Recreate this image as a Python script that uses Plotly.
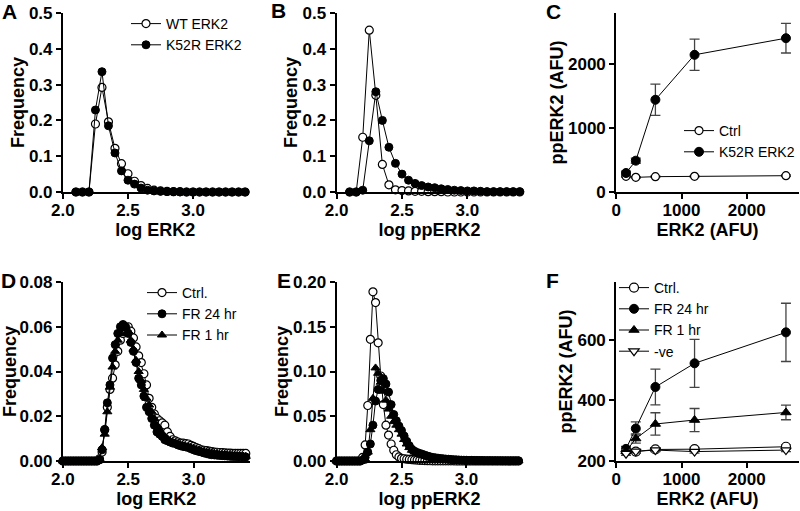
import plotly.graph_objects as go

# ---------------- data ----------------
AB_bins = [2.10, 2.15, 2.20, 2.25, 2.30, 2.35, 2.40, 2.45, 2.50, 2.55, 2.60, 2.65, 2.70,
           2.75, 2.80, 2.85, 2.90, 2.95, 3.00, 3.05, 3.10, 3.15, 3.20, 3.25, 3.30, 3.35, 3.40]

A_wt = [0, 0, 0, 0.190, 0.292, 0.196, 0.122, 0.079, 0.051, 0.030, 0.018, 0.010, 0.005,
        0.003, 0.002, 0.001, 0.001, 0, 0, 0, 0, 0, 0, 0, 0, 0, 0]
A_k52r = [0, 0, 0, 0.229, 0.336, 0.185, 0.109, 0.059, 0.033, 0.022, 0.011, 0.005, 0.003,
          0.002, 0.001, 0.001, 0, 0, 0, 0, 0, 0, 0, 0, 0, 0, 0]

B_wt = [0, 0, 0.153, 0.452, 0.270, 0.077, 0.020, 0.006, 0.004, 0.003, 0.002, 0.002, 0.001,
        0.001, 0.001, 0, 0, 0, 0, 0, 0, 0, 0, 0, 0, 0, 0]
B_k52r = [0, 0, 0.005, 0.143, 0.280, 0.200, 0.125, 0.080, 0.050, 0.033, 0.024, 0.018, 0.014,
          0.012, 0.009, 0.007, 0.005, 0.004, 0.003, 0.003, 0.002, 0.001, 0.001, 0.001, 0.001,
          0.001, 0.001]

C_erk = [150, 300, 600, 1200, 2600]
C_ctrl = [245, 229, 240, 245, 255]
C_ctrl_err = [10, 10, 10, 10, 12]
C_k52r = [297, 490, 1443, 2146, 2406]
C_k52r_err = [30, 40, 245, 245, 232]

DE_bins = [2.00, 2.02, 2.04, 2.06, 2.08, 2.10, 2.12, 2.14, 2.16, 2.18,
           2.20, 2.22, 2.24, 2.26, 2.28, 2.30, 2.32, 2.34, 2.36, 2.38,
           2.40, 2.42, 2.44, 2.46, 2.48, 2.50, 2.52, 2.54, 2.56, 2.58,
           2.60, 2.62, 2.64, 2.66, 2.68, 2.70, 2.72, 2.74, 2.76, 2.78,
           2.80, 2.82, 2.84, 2.86, 2.88, 2.90, 2.92, 2.94, 2.96, 2.98,
           3.00, 3.02, 3.04, 3.06, 3.08, 3.10, 3.12, 3.14, 3.16, 3.18,
           3.20, 3.22, 3.24, 3.26, 3.28, 3.30, 3.32, 3.34, 3.36, 3.38, 3.40]

D_ctrl = [0, 0, 0, 0, 0, 0, 0, 0, 0, 0, 0, 0, 0, 0,
          0.001, 0.004, 0.014, 0.024, 0.032, 0.037, 0.043, 0.049, 0.054, 0.057,
          0.059, 0.060, 0.058, 0.055, 0.051, 0.047, 0.044, 0.039, 0.034, 0.028,
          0.024, 0.021, 0.019, 0.018, 0.017, 0.016, 0.013, 0.011, 0.0095, 0.009,
          0.0085, 0.008, 0.008, 0.0078, 0.0076, 0.007, 0.0065, 0.006, 0.0055, 0.005,
          0.0048, 0.0046, 0.0044, 0.0042, 0.004, 0.0039, 0.0038, 0.0037, 0.0036, 0.0035,
          0.0035, 0.0034, 0.0034, 0.0034, 0.0034, 0.0034, 0.0034]
D_fr24 = [0, 0, 0, 0, 0, 0, 0, 0, 0, 0, 0, 0, 0, 0,
          0.0005, 0.005, 0.014, 0.026, 0.034, 0.046, 0.052, 0.057, 0.060, 0.061,
          0.060, 0.057, 0.053, 0.049, 0.044, 0.037, 0.034, 0.029, 0.024, 0.022,
          0.019, 0.016, 0.013, 0.012, 0.011, 0.0095, 0.009, 0.0085, 0.008, 0.0078,
          0.0072, 0.0068, 0.0065, 0.0063, 0.006, 0.0055, 0.005, 0.0046, 0.0043, 0.004,
          0.0036, 0.0033, 0.003, 0.0028, 0.0027, 0.0026, 0.0025, 0.0024, 0.0023, 0.0022,
          0.0021, 0.002, 0.002, 0.0019, 0.0019, 0.0019, 0.0018]
D_fr1 = [0, 0, 0, 0, 0, 0, 0, 0, 0, 0, 0, 0, 0, 0,
         0.001, 0.006, 0.012, 0.022, 0.033, 0.042, 0.049, 0.054, 0.057, 0.059,
         0.060, 0.058, 0.054, 0.050, 0.045, 0.040, 0.036, 0.032, 0.028, 0.025,
         0.022, 0.019, 0.016, 0.014, 0.012, 0.011, 0.010, 0.009, 0.0085, 0.008,
         0.0075, 0.007, 0.0068, 0.0065, 0.0062, 0.006, 0.0056, 0.0052, 0.0048, 0.0045,
         0.0042, 0.004, 0.0038, 0.0036, 0.0034, 0.0032, 0.003, 0.0029, 0.0028, 0.0027,
         0.0026, 0.0025, 0.0024, 0.0023, 0.0022, 0.0022, 0.0021]

E_ctrl = [0, 0, 0, 0, 0, 0, 0, 0, 0, 0,
          0.004, 0.018, 0.062, 0.136, 0.189, 0.177, 0.132, 0.095, 0.063, 0.040,
          0.029, 0.019, 0.012, 0.007, 0.0045, 0.003, 0.0025, 0.002, 0.0018, 0.0015,
          0.0012, 0.001, 0.0008, 0.0006, 0.0005, 0.0004, 0.0003, 0.0002, 0.0002, 0.0002,
          0.0002, 0.0002, 0.0002, 0.0002, 0.0002, 0.0002, 0, 0, 0, 0,
          0, 0, 0, 0, 0, 0, 0, 0, 0, 0,
          0, 0, 0, 0, 0, 0, 0, 0, 0, 0, 0]
E_fr24 = [0, 0, 0, 0, 0, 0, 0, 0, 0, 0,
          0.001, 0.004, 0.010, 0.019, 0.040, 0.067, 0.080, 0.090, 0.092, 0.086,
          0.077, 0.063, 0.052, 0.045, 0.039, 0.034, 0.028, 0.022, 0.017, 0.013,
          0.011, 0.0095, 0.0085, 0.0075, 0.0065, 0.0055, 0.0047, 0.004, 0.0036, 0.0032,
          0.0028, 0.0025, 0.0022, 0.002, 0.0017, 0.0015, 0.0013, 0.0012, 0.001, 0.0009,
          0.0008, 0.0007, 0.0007, 0.0006, 0.0006, 0.0005, 0.0005, 0.0004, 0.0004, 0.0004,
          0.0003, 0.0003, 0.0003, 0.0003, 0.0002, 0.0002, 0.0002, 0.0002, 0.0002, 0.0002, 0.0002]
E_fr1 = [0, 0, 0, 0, 0, 0, 0, 0, 0, 0,
         0, 0.002, 0.010, 0.035, 0.070, 0.104, 0.098, 0.088, 0.078, 0.068,
         0.058, 0.050, 0.044, 0.040, 0.035, 0.030, 0.024, 0.019, 0.015, 0.012,
         0.010, 0.0085, 0.0075, 0.0065, 0.0055, 0.0047, 0.004, 0.0035, 0.003, 0.0027,
         0.0024, 0.0021, 0.0019, 0.0017, 0.0015, 0.0013, 0.0012, 0.001, 0.0009, 0.0008,
         0.0007, 0.0006, 0.0006, 0.0005, 0.0005, 0.0005, 0.0004, 0.0004, 0.0003, 0.0003,
         0.0003, 0.0003, 0.0002, 0.0002, 0.0002, 0.0002, 0.0002, 0.0002, 0.0001, 0.0001, 0.0001]

F_erk = [150, 300, 600, 1200, 2600]
F_ctrl = [232, 231, 238, 239, 247]
F_ctrl_err = [6, 6, 6, 6, 6]
F_fr24 = [240, 307, 444, 522, 624]
F_fr24_err = [8, 22, 59, 79, 96]
F_fr1 = [232, 274, 322, 335, 360]
F_fr1_err = [6, 15, 37, 38, 24]
F_neg = [224, 232, 236, 231, 236]
F_neg_err = [5, 5, 5, 5, 5]

for arr in (D_ctrl, D_fr24, D_fr1, E_ctrl, E_fr24, E_fr1):
    assert len(arr) == len(DE_bins), len(arr)
for arr in (A_wt, A_k52r, B_wt, B_k52r):
    assert len(arr) == len(AB_bins), len(arr)

# ---------------- styling helpers ----------------
W, H = 800, 511
FONT = "Liberation Sans"
TICKFONT = dict(family=FONT, size=17, color="black", weight="bold")
TITLEFONT = dict(family=FONT, size=18, color="black", weight="bold")


def px_x(a, b):
    return [a / W, b / W]


def px_y(top, bottom):
    return [1 - bottom / H, 1 - top / H]


def axis(domain, rng, title, tickvals=None, dtick=None, fmt=None, anchor=None,
         standoff=0, labelshift=0):
    d = dict(domain=domain, range=rng, showline=True, linewidth=2, linecolor="black",
             ticks="outside", ticklen=5, tickwidth=2, tickcolor="black",
             showgrid=False, zeroline=False, tickfont=TICKFONT,
             ticklabelstandoff=labelshift,
             title=dict(text=title, font=TITLEFONT, standoff=standoff),
             anchor=anchor, automargin=False)
    if tickvals is not None:
        d["tickmode"] = "array"
        d["tickvals"] = tickvals
    if dtick is not None:
        d["tick0"] = rng[0]
        d["dtick"] = dtick
    if fmt is not None:
        d["tickformat"] = fmt
    return d


fig = go.Figure()

OPEN = dict(color="white", size=8, line=dict(color="black", width=1.2))
FILLED = dict(color="black", size=8, line=dict(color="black", width=1))
LINE = dict(color="black", width=1)
EB = dict(type="data", color="#444", thickness=1.3, width=5, visible=True)


def add(x, y, name, marker, xa, ya, legend, symbol="circle", err=None, showlegend=True):
    m = dict(marker)
    m["symbol"] = symbol
    tr = go.Scatter(x=x, y=y, name=name, mode="lines+markers", marker=m, line=LINE,
                    xaxis=xa, yaxis=ya, legend=legend, showlegend=showlegend,
                    cliponaxis=False)
    if err is not None:
        e = dict(EB)
        e["array"] = err
        tr.error_y = e
    fig.add_trace(tr)


# A
add(AB_bins, A_wt, "WT ERK2", OPEN, "x", "y", "legend")
add(AB_bins, A_k52r, "K52R ERK2", FILLED, "x", "y", "legend")
# B
add(AB_bins, B_wt, "WT ERK2", OPEN, "x2", "y2", "legend", showlegend=False)
add(AB_bins, B_k52r, "K52R ERK2", FILLED, "x2", "y2", "legend", showlegend=False)
# C
add(C_erk, C_ctrl, "Ctrl", OPEN, "x3", "y3", "legend2", err=C_ctrl_err)
add(C_erk, C_k52r, "K52R ERK2", dict(FILLED, size=9), "x3", "y3", "legend2", err=C_k52r_err)
# D
add(DE_bins, D_ctrl, "Ctrl.", OPEN, "x4", "y4", "legend3")
add(DE_bins, D_fr24, "FR 24 hr", FILLED, "x4", "y4", "legend3")
add(DE_bins, D_fr1, "FR 1 hr", FILLED, "x4", "y4", "legend3", symbol="triangle-up")
# E
add(DE_bins, E_ctrl, "Ctrl.", OPEN, "x5", "y5", "legend3", showlegend=False)
add(DE_bins, E_fr24, "FR 24 hr", FILLED, "x5", "y5", "legend3", showlegend=False)
add(DE_bins, E_fr1, "FR 1 hr", FILLED, "x5", "y5", "legend3", symbol="triangle-up", showlegend=False)
# F
add(F_erk, F_ctrl, "Ctrl.", dict(OPEN, size=9), "x6", "y6", "legend4", err=F_ctrl_err)
add(F_erk, F_fr24, "FR 24 hr", dict(FILLED, size=9), "x6", "y6", "legend4", err=F_fr24_err)
add(F_erk, F_fr1, "FR 1 hr", dict(FILLED, size=9), "x6", "y6", "legend4", symbol="triangle-up", err=F_fr1_err)
add(F_erk, F_neg, "-ve", dict(OPEN, size=9), "x6", "y6", "legend4", symbol="triangle-down", err=F_neg_err)

top_row = px_y(13, 192)
bot_row = px_y(282, 461)
XS = -3  # pull x tick labels up a little

layout = dict(
    width=W, height=H, margin=dict(l=0, r=0, t=0, b=0),
    paper_bgcolor="white", plot_bgcolor="white",
    font=dict(family=FONT, color="black"),
    xaxis=axis(px_x(63, 248), [2.0, 3.42], "log ERK2", tickvals=[2.0, 2.5, 3.0], fmt=".1f", anchor="y", labelshift=XS),
    yaxis=axis(top_row, [0, 0.5], "Frequency", dtick=0.1, fmt=".1f", anchor="x"),
    xaxis2=axis(px_x(337, 523), [2.0, 3.42], "log ppERK2", tickvals=[2.0, 2.5, 3.0], fmt=".1f", anchor="y2", labelshift=XS),
    yaxis2=axis(top_row, [0, 0.5], "Frequency", dtick=0.1, fmt=".1f", anchor="x2"),
    xaxis3=axis(px_x(617, 800), [0, 2800], "ERK2 (AFU)", tickvals=[0, 1000, 2000], fmt="d", anchor="y3", labelshift=XS),
    yaxis3=axis(top_row, [0, 2800], "ppERK2 (AFU)", tickvals=[0, 1000, 2000], fmt="d", anchor="x3"),
    xaxis4=axis(px_x(63, 250), [2.0, 3.43], "log ERK2", tickvals=[2.0, 2.5, 3.0], fmt=".1f", anchor="y4", labelshift=XS),
    yaxis4=axis(bot_row, [0, 0.08], "Frequency", dtick=0.02, fmt=".2f", anchor="x4"),
    xaxis5=axis(px_x(337, 523), [2.0, 3.43], "log ppERK2", tickvals=[2.0, 2.5, 3.0], fmt=".1f", anchor="y5", labelshift=XS),
    yaxis5=axis(bot_row, [0, 0.2], "Frequency", dtick=0.05, fmt=".2f", anchor="x5"),
    xaxis6=axis(px_x(617, 800), [0, 2800], "ERK2 (AFU)", tickvals=[0, 1000, 2000], fmt="d", anchor="y6", labelshift=XS),
    yaxis6=axis(bot_row, [200, 790], "ppERK2 (AFU)", tickvals=[200, 400, 600], fmt="d", anchor="x6"),
)

LEGFONT = dict(family=FONT, size=14, color="black")


def leg(xpx, ypx):
    return dict(x=xpx / W, y=1 - ypx / H, xanchor="left", yanchor="top",
                bgcolor="rgba(0,0,0,0)", borderwidth=0, font=LEGFONT,
                tracegroupgap=0, itemwidth=30, traceorder="normal")


layout["legend"] = leg(126, 8)
layout["legend2"] = leg(680, 115)
layout["legend3"] = leg(142, 277)
layout["legend4"] = leg(614, 272)

letters = [("A", 10, 11), ("B", 279, 10), ("C", 554, 11), ("D", 9, 280), ("E", 284, 280), ("F", 553, 280)]
layout["annotations"] = [
    dict(text=t, x=xp / W, y=1 - yp / H, xref="paper", yref="paper", showarrow=False,
         xanchor="center", yanchor="middle",
         font=dict(family=FONT, size=21, color="black", weight="bold"))
    for t, xp, yp in letters
]

fig.update_layout(**layout)
fig.write_html("out.html", config={"displayModeBar": False},
               post_script="document.body.style.margin='0px';document.body.style.padding='0px';")
